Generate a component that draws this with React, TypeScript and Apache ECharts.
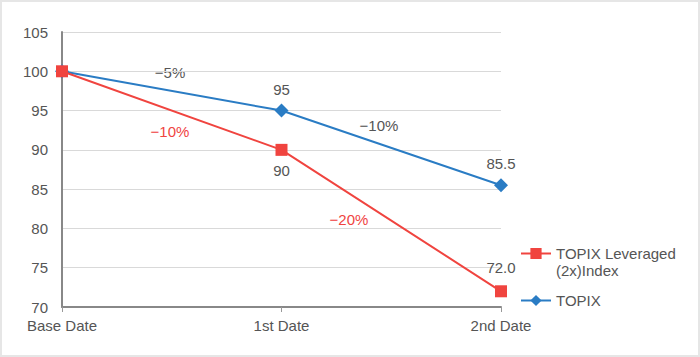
import React, { useEffect, useRef } from "react";
import * as echarts from "echarts";

const categories = ["Base Date", "1st Date", "2nd Date"];
const leveraged = [100, 90, 72.0];
const topix = [100, 95, 85.5];
const leveragedLabels = ["", "90", "72.0"];
const topixLabels = ["", "95", "85.5"];
const seriesNames = ["TOPIX Leveraged\n(2x)Index", "TOPIX"];
const changeTexts = [
  { text: "\u22125%", color: "#555555", x: 170, y: 72 },
  { text: "\u221210%", color: "#f0443f", x: 170, y: 131 },
  { text: "\u221210%", color: "#555555", x: 379, y: 125 },
  { text: "\u221220%", color: "#f0443f", x: 349, y: 219 },
];

const RED = "#f0443f";
const BLUE = "#2a7cc4";
const FONT = "'Liberation Sans', Arial, sans-serif";
const FS = 15;

export default function App() {
  const ref = useRef<HTMLDivElement>(null);
  useEffect(() => {
    if (!ref.current) return;
    const chart = echarts.init(ref.current, undefined, { renderer: "svg" });
    chart.setOption({
      animation: false,
      backgroundColor: "#ffffff",
      grid: { left: 62, right: 199, top: 32, bottom: 50, containLabel: false },
      xAxis: {
        type: "category",
        data: categories,
        boundaryGap: false,
        axisLine: { lineStyle: { color: "#888888", width: 2 } },
        axisTick: { show: true, alignWithLabel: true, length: 5, lineStyle: { color: "#999999" } },
        axisLabel: { color: "#555555", fontSize: FS, fontFamily: FONT, margin: 11 },
        splitLine: { show: false },
      },
      yAxis: {
        type: "value",
        min: 70,
        max: 105,
        interval: 5,
        axisLine: { show: true, lineStyle: { color: "#888888", width: 2 } },
        axisTick: { show: false },
        axisLabel: { color: "#555555", fontSize: FS, fontFamily: FONT, margin: 14 },
        splitLine: { lineStyle: { color: "#d9d9d9", width: 1 } },
      },
      legend: {
        orient: "vertical",
        left: 520,
        top: 228,
        padding: 0,
        itemWidth: 30,
        itemHeight: 14,
        itemGap: 13,
        data: [seriesNames[0], seriesNames[1]],
        formatter: (name: string) => (name === seriesNames[0] ? " \n" + name : name),
        textStyle: { color: "#555555", fontSize: FS, fontFamily: FONT, lineHeight: 17 },
      },
      series: [
        {
          name: seriesNames[1],
          type: "line",
          data: topix.map((v, i) => ({
            value: v,
            label: { show: topixLabels[i] !== "", formatter: topixLabels[i], position: "top", distance: 7 },
          })),
          symbol: "diamond",
          symbolSize: 14,
          lineStyle: { color: BLUE, width: 2 },
          itemStyle: { color: BLUE },
          label: { color: "#555555", fontSize: FS, fontFamily: FONT },
          z: 2,
        },
        {
          name: seriesNames[0],
          type: "line",
          data: leveraged.map((v, i) => ({
            value: v,
            label: {
              show: leveragedLabels[i] !== "",
              formatter: leveragedLabels[i],
              position: i === 1 ? "bottom" : "top",
              distance: i === 1 ? 7 : 10,
            },
          })),
          symbol: "rect",
          symbolSize: 12,
          lineStyle: { color: RED, width: 2 },
          itemStyle: { color: RED },
          label: { color: "#555555", fontSize: FS, fontFamily: FONT },
          z: 3,
        },
      ],
      graphic: changeTexts.map((t) => ({
        type: "text",
        x: t.x,
        y: t.y,
        style: {
          text: t.text,
          fill: t.color,
          fontSize: FS,
          fontFamily: FONT,
          align: "center",
          verticalAlign: "middle",
        },
      })),
    });
    return () => chart.dispose();
  }, []);
  return (
    <div
      style={{
        position: "fixed",
        left: 0,
        top: 0,
        width: 700,
        height: 357,
        background: "#ffffff",
      }}
    >
      <div ref={ref} style={{ position: "absolute", left: 0, top: 0, width: 700, height: 357 }} />
      <div style={{ position: "absolute", left: 0, top: 0, width: 700, height: 357, boxSizing: "border-box", border: "2px solid #e6e6e6", pointerEvents: "none" }} />
    </div>
  );
}
